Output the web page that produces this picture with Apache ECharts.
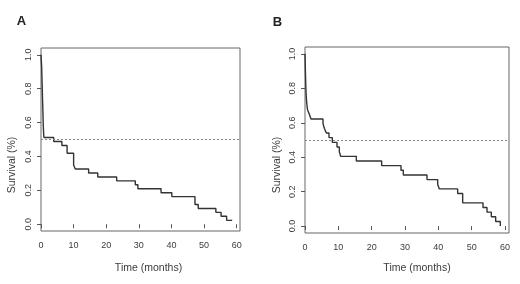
<!DOCTYPE html>
<html>
<head>
<meta charset="utf-8">
<script src="https://cdn.jsdelivr.net/npm/echarts@6/dist/echarts.min.js"></script>
<style>html,body{margin:0;padding:0;background:#fff}#c{width:520px;height:284px}</style>
</head>
<body>
<div id="c"></div>
<script>
// Panel A: Kaplan-Meier steps (time in months, survival)
var timesA = [0, 0.2, 0.3, 0.4, 0.5, 0.6, 0.7, 0.8, 0.9, 3.9, 6.4, 8.0, 10.0, 10.5, 14.6, 17.4, 23.2, 28.9, 29.7, 36.8, 40.1, 47.2, 48.2, 53.6, 55.2, 56.9, 58.6];
var survA  = [1.0, 0.93, 0.86, 0.79, 0.72, 0.65, 0.58, 0.535, 0.512, 0.488, 0.465, 0.419, 0.349, 0.326, 0.302, 0.279, 0.256, 0.233, 0.209, 0.186, 0.163, 0.116, 0.093, 0.070, 0.047, 0.023, 0.023];
// Panel B
var timesB = [0, 0.1, 0.2, 0.3, 0.45, 0.6, 0.75, 1.3, 1.8, 5.4, 5.8, 6.4, 7.2, 8.2, 9.6, 10.3, 10.7, 15.4, 23.0, 28.8, 29.5, 36.6, 39.8, 40.3, 45.8, 47.3, 53.4, 54.6, 55.9, 57.2, 58.6];
var survB  = [1.0, 0.92, 0.84, 0.78, 0.73, 0.70, 0.676, 0.649, 0.622, 0.595, 0.568, 0.541, 0.514, 0.486, 0.459, 0.432, 0.405, 0.378, 0.351, 0.324, 0.297, 0.270, 0.243, 0.216, 0.189, 0.135, 0.108, 0.081, 0.054, 0.027, 0.0];
var medianLine = 0.5;
var xTicks = [0, 10, 20, 30, 40, 50, 60];
var yTicks = [0, 0.2, 0.4, 0.6, 0.8, 1.0];
var panelLabels = ['A', 'B'];
var xTitle = 'Time (months)';
var yTitle = 'Survival (%)';

function pairs(t, s) { return t.map(function (v, i) { return [v, s[i]]; }); }

var FONT = 'Liberation Sans, Arial, sans-serif';
var TXT = '#3c3c3c';

function xAxis(idx, max, margin) {
  return {
    type: 'value', gridIndex: idx, min: 0, max: max,
    axisLine: { show: false },
    splitLine: { show: false },
    axisTick: { show: true, customValues: xTicks, length: 4, lineStyle: { color: '#555' } },
    axisLabel: { customValues: xTicks, fontSize: 9, color: TXT, fontFamily: FONT, margin: margin, formatter: function (v) { return String(v); } }
  };
}
function yAxis(idx) {
  return {
    type: 'value', gridIndex: idx, min: -0.04, max: 1.04,
    axisLine: { show: false },
    splitLine: { show: false },
    axisTick: { show: true, customValues: yTicks, length: 4, lineStyle: { color: '#555' } },
    axisLabel: { customValues: yTicks, rotate: 90, fontSize: 9, color: TXT, fontFamily: FONT, margin: 8,
      formatter: function (v) { return v.toFixed(1); } }
  };
}
function km(idx, data) {
  return {
    type: 'line', xAxisIndex: idx, yAxisIndex: idx, step: 'end', data: data,
    showSymbol: false, symbol: 'none', silent: true, animation: false,
    lineStyle: { color: '#333', width: 1.4 },
    markLine: {
      silent: true, symbol: 'none', animation: false,
      label: { show: false },
      lineStyle: { color: '#888', width: 1, type: [2, 2] },
      data: [{ yAxis: medianLine }]
    }
  };
}

var chart = echarts.init(document.getElementById('c'), null, { renderer: 'canvas' });
chart.setOption({
  backgroundColor: '#fff',
  animation: false,
  grid: [
    { left: 41, top: 48, width: 199, height: 183, show: true, borderColor: '#666', borderWidth: 1, backgroundColor: 'transparent' },
    { left: 305, top: 47, width: 204, height: 186, show: true, borderColor: '#666', borderWidth: 1, backgroundColor: 'transparent' }
  ],
  xAxis: [xAxis(0, 61, 10), xAxis(1, 61.2, 10)],
  yAxis: [yAxis(0), yAxis(1)],
  series: [km(0, pairs(timesA, survA)), km(1, pairs(timesB, survB))],
  graphic: [
    { type: 'text', x: 21.5, y: 21.5, style: { text: panelLabels[0], font: 'bold 13px ' + FONT, fill: '#222', textAlign: 'center', textVerticalAlign: 'middle' } },
    { type: 'text', x: 277.5, y: 22.5, style: { text: panelLabels[1], font: 'bold 13px ' + FONT, fill: '#222', textAlign: 'center', textVerticalAlign: 'middle' } },
    { type: 'text', x: 148.5, y: 268, style: { text: xTitle, font: '10.5px ' + FONT, fill: TXT, textAlign: 'center', textVerticalAlign: 'middle' } },
    { type: 'text', x: 417, y: 268.5, style: { text: xTitle, font: '10.5px ' + FONT, fill: TXT, textAlign: 'center', textVerticalAlign: 'middle' } },
    { type: 'text', x: 11.7, y: 165, rotation: Math.PI / 2, style: { text: yTitle, font: '10.5px ' + FONT, fill: TXT, textAlign: 'center', textVerticalAlign: 'middle' } },
    { type: 'text', x: 277, y: 165, rotation: Math.PI / 2, style: { text: yTitle, font: '10.5px ' + FONT, fill: TXT, textAlign: 'center', textVerticalAlign: 'middle' } }
  ]
});
</script>
</body>
</html>
